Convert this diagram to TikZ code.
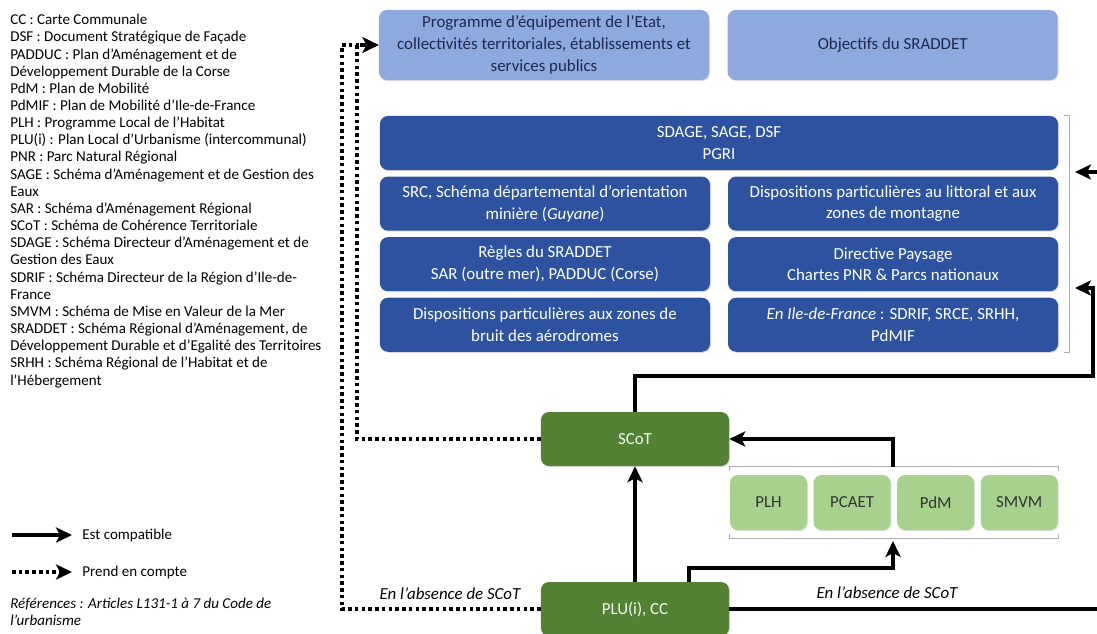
\documentclass[tikz,border=0pt]{standalone}
\usepackage{fontspec}
\setmainfont{Carlito}
\usetikzlibrary{arrows.meta,positioning,shadows}

\definecolor{paleblue}{RGB}{142,169,222}
\definecolor{deepblue}{RGB}{45,83,160}
\definecolor{navytext}{RGB}{28,40,80}
\definecolor{deepgreen}{RGB}{84,130,53}
\definecolor{palegreen}{RGB}{169,209,142}
\definecolor{bracketgray}{RGB}{175,175,175}

\begin{document}
\begin{tikzpicture}[
        x=0.025cm, y=-0.025cm,
        node distance=0.15cm and 0.45cm,
        boxtext/.style={font=\fontsize{12}{15.5}\selectfont, align=center},
        shade/.style={drop shadow={opacity=0.25, shadow xshift=0.6pt, shadow yshift=-0.8pt}},
        lightbox/.style={rectangle, rounded corners=0.2cm, fill=paleblue, text=navytext, minimum width=8.25cm, minimum height=1.75cm, boxtext, shade},
        darkbox/.style={rectangle, rounded corners=0.2cm, fill=deepblue, text=white, minimum width=8.25cm, minimum height=1.35cm, boxtext, shade},
        greenbox/.style={rectangle, rounded corners=0.2cm, fill=deepgreen, text=white!85!palegreen, minimum width=4.7cm, minimum height=1.35cm, boxtext, shade},
        palebox/.style={rectangle, rounded corners=0.2cm, fill=palegreen, text=black!80, minimum width=1.925cm, minimum height=1.375cm, boxtext, shade},
        arrow/.style={-{Stealth[length=4mm, width=3.8mm, inset=1mm]}, line width=2.6pt},
        dotarrow/.style={arrow, dash pattern=on 2.6pt off 2.2pt},
        bracket/.style={bracketgray, line width=0.6pt},
        legend/.style={font=\fontsize{10.7}{12.2}\selectfont, align=left, anchor=north west, inner sep=0pt},
        absence/.style={font=\fontsize{12}{14}\selectfont\itshape}
    ]
        \useasboundingbox (0,0) rectangle (1097,633);
        \clip (0,0) rectangle (1097,633);

        % Legend
        \node[legend] (abbrev) at (10,14) {CC : Carte Communale\\
            DSF : Document Stratégique de Façade\\
            PADDUC : Plan d'Aménagement et de\\
            Développement Durable de la Corse\\
            PdM : Plan de Mobilité\\
            PdMIF : Plan de Mobilité d'Ile-de-France\\
            PLH : Programme Local de l'Habitat\\
            PLU(i) : Plan Local d'Urbanisme (intercommunal)\\
            PNR : Parc Natural Régional\\
            SAGE : Schéma d'Aménagement et de Gestion des\\
            Eaux\\
            SAR : Schéma d'Aménagement Régional\\
            SCoT : Schéma de Cohérence Territoriale\\
            SDAGE : Schéma Directeur d'Aménagement et de\\
            Gestion des Eaux\\
            SDRIF : Schéma Directeur de la Région d'Ile-de-\\
            France\\
            SMVM : Schéma de Mise en Valeur de la Mer\\
            SRADDET : Schéma Régional d'Aménagement, de\\
            Développement Durable et d'Egalité des Territoires\\
            SRHH : Schéma Régional de l'Habitat et de\\
            l'Hébergement};
        \node[legend, anchor=west] (compat) at (82,535) {Est compatible};
        \node[legend, anchor=west] (compte) at (82,572) {Prend en compte};
        \node[legend, font=\fontsize{10.7}{12.2}\selectfont\itshape] (refs) at (10,598) {Références : Articles L131-1 à 7 du Code de\\l'urbanisme};
        \draw[arrow, line width=3.2pt] ([xshift=-1.75cm]compat.west) -- ([xshift=-0.25cm]compat.west);
        \draw[dotarrow, line width=3.2pt] ([xshift=-1.75cm]compte.west) -- ([xshift=-0.25cm]compte.west);

        % Top boxes
        \node[lightbox] (equip) at (544,45) {Programme d'équipement de l'Etat,\\collectivités territoriales, établissements et\\services publics};
        \node[lightbox, right=of equip] (objectifs) {Objectifs du SRADDET};

        % Blue group
        \node[darkbox, minimum width=16.95cm] (sdage) at (719,143) {SDAGE, SAGE, DSF\\PGRI};
        \node[darkbox, below=of sdage.south west, anchor=north west] (src) {SRC, Schéma départemental d'orientation\\minière (\textit{Guyane})};
        \node[darkbox, below=of src] (regles) {Règles du SRADDET\\SAR (outre mer), PADDUC (Corse)};
        \node[darkbox, below=of regles] (bruit) {Dispositions particulières aux zones de\\bruit des aérodromes};
        \node[darkbox, below=of sdage.south east, anchor=north east] (littoral) {Dispositions particulières au littoral et aux\\zones de montagne};
        \node[darkbox, below=of littoral] (paysage) {Directive Paysage\\Chartes PNR \& Parcs nationaux};
        \node[darkbox, below=of paysage] (idf) {\textit{En Ile-de-France} : SDRIF, SRCE, SRHH,\\PdMIF};
        \draw[bracket] ([xshift=0.15cm]sdage.north east) -- ([xshift=0.28cm]sdage.north east)
            -- ([xshift=0.28cm]idf.south east) -- ([xshift=0.15cm]idf.south east);

        % Green boxes
        \node[greenbox] (scot) at (635,439) {SCoT};
        \node[greenbox] (plu) at (635,609) {PLU(i), CC};
        \node[palebox] (plh) at (768.5,502.5) {PLH};
        \node[palebox, right=0.15cm of plh] (pcaet) {PCAET};
        \node[palebox, right=0.15cm of pcaet] (pdm) {PdM};
        \node[palebox, right=0.15cm of pdm] (smvm) {SMVM};
        \draw[bracket] ([yshift=0.1cm]plh.north west) -- ([yshift=0.2cm]plh.north west)
            -- ([yshift=0.2cm]smvm.north east) -- ([yshift=0.1cm]smvm.north east);
        \draw[bracket] ([yshift=-0.1cm]plh.south west) -- ([yshift=-0.2cm]plh.south west)
            -- ([yshift=-0.2cm]smvm.south east) -- ([yshift=-0.1cm]smvm.south east);

        % Connector points
        \coordinate (grptop) at (893,467);
        \coordinate (grpbot) at (893,541);
        \coordinate (bluein1) at (1075,172);
        \coordinate (bluein2) at (1075,288);
        \coordinate (rightrail) at (1093,376);
        \coordinate (offrail) at (1120,400);
        \coordinate (pluknee) at (689,568);
        \coordinate (innerrail) at (357,300);
        \coordinate (outerrail) at (342,300);

        % Arrows
        \draw[arrow] (plu.north) -- (scot.south);
        \draw[arrow] (grptop) |- (scot.east);
        \draw[arrow] (pluknee |- plu.north) -- (pluknee) -| (grpbot);
        \draw[arrow] (scot.north) |- (rightrail) |- (bluein2);
        \draw[arrow] (plu.east) -| (offrail) |- (bluein1);
        \draw[dotarrow] (scot.west) -| (innerrail) |- (equip.west);
        \draw[dotarrow] (plu.west) -| (outerrail) |- (equip.west);
        \node[absence] (absleft) at (450,594) {En l'absence de SCoT};
        \node[absence] (absright) at (887,593) {En l'absence de SCoT};

    \end{tikzpicture}
\end{document}
